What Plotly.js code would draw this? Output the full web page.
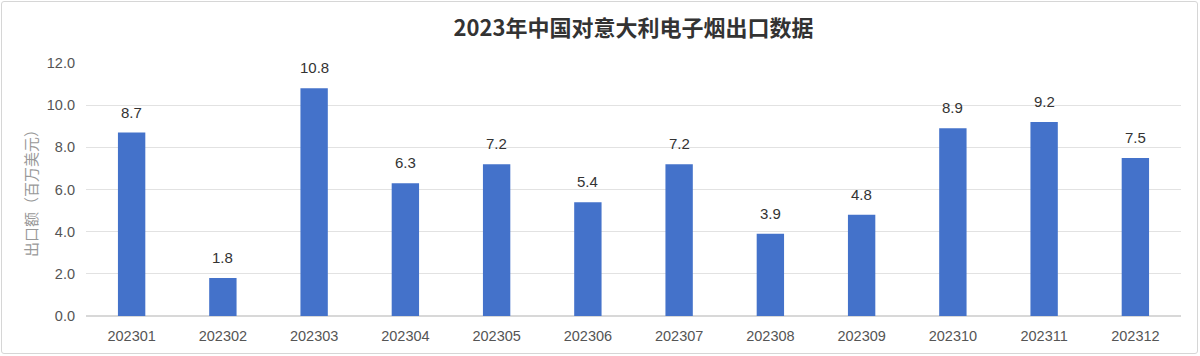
<!DOCTYPE html>
<html><head><meta charset="utf-8">
<script src="https://cdn.plot.ly/plotly-3.0.1.min.js"></script>
<style>
body{margin:0;background:#fff;}
#wrap{position:relative;width:1200px;height:356px;}
#border{position:absolute;left:1px;top:1px;width:1195px;height:351px;border:1px solid #d6d6d6;border-radius:3px;pointer-events:none;}
</style></head>
<body>
<div id="wrap"><div id="chart" style="width:1200px;height:356px;"></div><div id="border"></div></div>
<script>
const months = ['202301','202302','202303','202304','202305','202306','202307','202308','202309','202310','202311','202312'];
const values = [8.7, 1.8, 10.8, 6.3, 7.2, 5.4, 7.2, 3.9, 4.8, 8.9, 9.2, 7.5];
const labels = ['8.7','1.8','10.8','6.3','7.2','5.4','7.2','3.9','4.8','8.9','9.2','7.5'];
const tickVals = [0, 2, 4, 6, 8, 10, 12];
const tickText = ['0.0','2.0','4.0','6.0','8.0','10.0','12.0'];

const FONT = 'Liberation Sans, Noto Sans CJK SC, sans-serif';
const trace = {
  type: 'bar', x: months, y: values,
  marker: {color: '#4472CA'},
  hoverinfo: 'skip'
};
const annotations = months.map((m, i) => ({
  x: i, y: values[i], text: labels[i], showarrow: false,
  xref: 'x', yref: 'y', yanchor: 'bottom', yshift: 10,
  font: {family: FONT, size: 15, color: '#333'}
}));
const layout = {
  width: 1200, height: 356,
  margin: {l: 86, r: 19, t: 63, b: 40},
  paper_bgcolor: '#fff', plot_bgcolor: '#fff',
  bargap: 0.7,
  showlegend: false,
  title: {text: '<b>2023年中国对意大利电子烟出口数据</b>', xref: 'paper', x: 0.5, xanchor: 'center', y: 0.92, yanchor: 'middle',
          font: {family: 'Noto Sans CJK SC, sans-serif', size: 22, color: '#333'}},
  xaxis: {type: 'category', range: [-0.5, 11.5], tickfont: {family: FONT, size: 14.5, color: '#555'}, showgrid: false,
          showline: false, ticks: '', ticklabelstandoff: 9},
  yaxis: {range: [0, 12], tickvals: tickVals, ticktext: tickText, showgrid: true, gridcolor: '#e2e2e2', gridwidth: 1,
          zeroline: true, zerolinecolor: '#d8d8d8', zerolinewidth: 1.5,
          tickfont: {family: FONT, size: 14.5, color: '#555'}, ticks: '', ticklabelstandoff: 10,
          title: {text: '出口额（百万美元）', standoff: 5, font: {family: 'Noto Sans CJK SC, sans-serif', size: 15, color: '#999'}}},
  annotations: annotations
};
Plotly.newPlot('chart', [trace], layout, {displayModeBar: false, staticPlot: true});
</script>
</body></html>
